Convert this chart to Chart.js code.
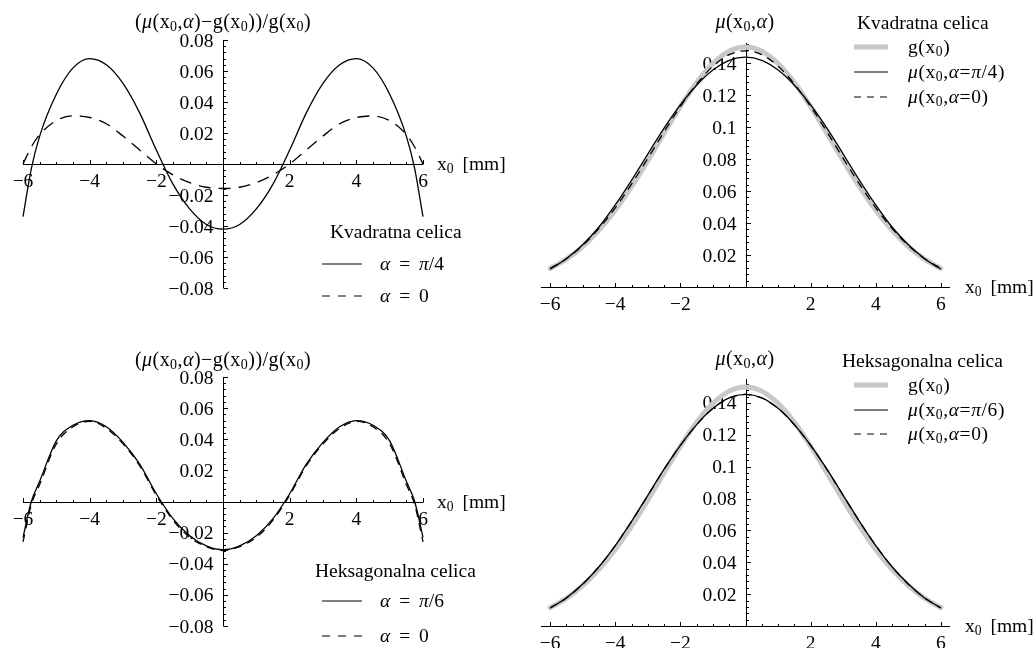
<!DOCTYPE html>
<html>
<head>
<meta charset="utf-8">
<script src="https://cdn.jsdelivr.net/npm/chart.js@4.4.1/dist/chart.umd.min.js"></script>
<style>
  body { margin: 0; background: #fff; width: 1033px; height: 648px; position: relative; overflow: hidden;
         font-family: 'Liberation Serif', 'Times New Roman', serif; color: #000; }
  canvas { position: absolute; }
  .t { position: absolute; white-space: nowrap; font-size: 19.5px; line-height: 1; transform: translateY(-50%); }
  .c { transform: translate(-50%, -50%); letter-spacing: 0.45px; font-size: 20px; }
  .w { word-spacing: 4px; }
  .m { letter-spacing: 0.6px; }
  .t i { font-style: italic; }
  .t sub { font-size: 70%; vertical-align: -0.22em; line-height: 0; }
  svg { position: absolute; overflow: visible; }
</style>
</head>
<body>

<canvas id="c1" width="520" height="324" style="left:0;top:0"></canvas>
<canvas id="c2" width="513" height="324" style="left:520px;top:0"></canvas>
<canvas id="c3" width="520" height="324" style="left:0;top:324px"></canvas>
<canvas id="c4" width="513" height="324" style="left:520px;top:324px"></canvas>

<!-- axis titles -->
<div class="t c" style="left:223px;top:21px">(<i>μ</i>(x<sub>0</sub>,<i>α</i>)−g(x<sub>0</sub>))/g(x<sub>0</sub>)</div>
<div class="t c" style="left:223px;top:359px">(<i>μ</i>(x<sub>0</sub>,<i>α</i>)−g(x<sub>0</sub>))/g(x<sub>0</sub>)</div>
<div class="t c" style="left:745px;top:21px"><i>μ</i>(x<sub>0</sub>,<i>α</i>)</div>
<div class="t c" style="left:745px;top:358px"><i>μ</i>(x<sub>0</sub>,<i>α</i>)</div>
<div class="t w" style="left:437px;top:164px">x<sub>0</sub> [mm]</div>
<div class="t w" style="left:437px;top:502px">x<sub>0</sub> [mm]</div>
<div class="t w" style="left:965px;top:287px">x<sub>0</sub> [mm]</div>
<div class="t w" style="left:965px;top:626px">x<sub>0</sub> [mm]</div>

<!-- legend, top left -->
<div class="t" style="left:330px;top:232px">Kvadratna celica</div>
<svg style="left:322px;top:264px" width="40" height="1"><line x1="0" y1="0" x2="40" y2="0" stroke="#000" stroke-width="1.2"/></svg>
<div class="t w" style="left:380px;top:264px"><i>α</i> = <i>π</i>/4</div>
<svg style="left:322px;top:296px" width="40" height="1"><line x1="0" y1="0" x2="40" y2="0" stroke="#000" stroke-width="1.2" stroke-dasharray="8 8"/></svg>
<div class="t w" style="left:380px;top:296px"><i>α</i> = 0</div>

<!-- legend, bottom left -->
<div class="t" style="left:315px;top:571px">Heksagonalna celica</div>
<svg style="left:322px;top:601px" width="40" height="1"><line x1="0" y1="0" x2="40" y2="0" stroke="#000" stroke-width="1.2"/></svg>
<div class="t w" style="left:380px;top:601px"><i>α</i> = <i>π</i>/6</div>
<svg style="left:322px;top:636px" width="40" height="1"><line x1="0" y1="0" x2="40" y2="0" stroke="#000" stroke-width="1.2" stroke-dasharray="8 8"/></svg>
<div class="t w" style="left:380px;top:636px"><i>α</i> = 0</div>

<!-- legend, top right -->
<div class="t" style="left:857px;top:23px">Kvadratna celica</div>
<svg style="left:854px;top:47px" width="34" height="1"><line x1="0" y1="0" x2="34" y2="0" stroke="#c8c8c8" stroke-width="5"/></svg>
<div class="t m" style="left:908px;top:47px">g(x<sub>0</sub>)</div>
<svg style="left:854px;top:72px" width="34" height="1"><line x1="0" y1="0" x2="34" y2="0" stroke="#000" stroke-width="1.2"/></svg>
<div class="t m" style="left:908px;top:72px"><i>μ</i>(x<sub>0</sub>,<i>α</i>=<i>π</i>/4)</div>
<svg style="left:854px;top:97px" width="34" height="1"><line x1="0" y1="0" x2="34" y2="0" stroke="#000" stroke-width="1.2" stroke-dasharray="7 6"/></svg>
<div class="t m" style="left:908px;top:97px"><i>μ</i>(x<sub>0</sub>,<i>α</i>=0)</div>

<!-- legend, bottom right -->
<div class="t" style="left:842px;top:361px">Heksagonalna celica</div>
<svg style="left:854px;top:385px" width="34" height="1"><line x1="0" y1="0" x2="34" y2="0" stroke="#c8c8c8" stroke-width="5"/></svg>
<div class="t m" style="left:908px;top:385px">g(x<sub>0</sub>)</div>
<svg style="left:854px;top:410px" width="34" height="1"><line x1="0" y1="0" x2="34" y2="0" stroke="#000" stroke-width="1.2"/></svg>
<div class="t m" style="left:908px;top:410px"><i>μ</i>(x<sub>0</sub>,<i>α</i>=<i>π</i>/6)</div>
<svg style="left:854px;top:434px" width="34" height="1"><line x1="0" y1="0" x2="34" y2="0" stroke="#000" stroke-width="1.2" stroke-dasharray="7 6"/></svg>
<div class="t m" style="left:908px;top:434px"><i>μ</i>(x<sub>0</sub>,<i>α</i>=0)</div>

<script>
// x0 sample positions [mm]
const xs = [-6, -5.75, -5.5, -5, -4.5, -4, -3.5, -3, -2.5, -2, -1.5, -1, -0.5, 0,
            0.5, 1, 1.5, 2, 2.5, 3, 3.5, 4, 4.5, 5, 5.5, 5.75, 6];

// relative error (mu - g) / g
const relSqPi4 = [-0.034, -0.003, 0.018, 0.045, 0.062, 0.068, 0.064, 0.052, 0.033, 0.009, -0.013, -0.029, -0.039, -0.042,
                  -0.039, -0.029, -0.013, 0.009, 0.033, 0.052, 0.064, 0.068, 0.062, 0.045, 0.018, -0.003, -0.034];
const relSq0   = [0.0, 0.011, 0.019, 0.028, 0.031, 0.030, 0.026, 0.018, 0.009, 0.0, -0.007, -0.012, -0.015, -0.0158,
                  -0.015, -0.012, -0.007, 0.0, 0.009, 0.018, 0.026, 0.030, 0.031, 0.028, 0.019, 0.011, 0.0];
const relHexPi6 = [-0.023, 0.0, 0.013, 0.039, 0.049, 0.052, 0.048, 0.038, 0.024, 0.005, -0.011, -0.022, -0.0285, -0.031,
                   -0.0285, -0.022, -0.011, 0.005, 0.024, 0.038, 0.048, 0.052, 0.049, 0.039, 0.013, 0.0, -0.023];
const relHex0   = [-0.026, -0.002, 0.011, 0.037, 0.048, 0.0515, 0.047, 0.037, 0.023, 0.004, -0.012, -0.023, -0.029, -0.0315,
                   -0.029, -0.023, -0.012, 0.004, 0.023, 0.037, 0.047, 0.0515, 0.048, 0.037, 0.011, -0.002, -0.026];

// profiles
const gVals    = [0.0116, 0.0143, 0.0174, 0.0253, 0.0355, 0.0480, 0.0627, 0.0790, 0.0961, 0.1128, 0.1278, 0.1397, 0.1474, 0.1500,
                  0.1474, 0.1397, 0.1278, 0.1128, 0.0961, 0.0790, 0.0627, 0.0480, 0.0355, 0.0253, 0.0174, 0.0143, 0.0116];
const muSqPi4  = [0.0112, 0.0143, 0.0177, 0.0264, 0.0375, 0.0513, 0.0667, 0.0831, 0.0993, 0.1138, 0.1261, 0.1356, 0.1417, 0.1437,
                  0.1417, 0.1356, 0.1261, 0.1138, 0.0993, 0.0831, 0.0667, 0.0513, 0.0375, 0.0264, 0.0177, 0.0143, 0.0112];
const muSq0    = [0.0116, 0.0145, 0.0177, 0.0260, 0.0366, 0.0494, 0.0643, 0.0804, 0.0970, 0.1128, 0.1269, 0.1380, 0.1452, 0.1476,
                  0.1452, 0.1380, 0.1269, 0.1128, 0.0970, 0.0804, 0.0643, 0.0494, 0.0366, 0.0260, 0.0177, 0.0145, 0.0116];
const muHexPi6 = [0.0113, 0.0143, 0.0176, 0.0263, 0.0372, 0.0505, 0.0657, 0.0820, 0.0984, 0.1134, 0.1264, 0.1366, 0.1432, 0.1454,
                  0.1432, 0.1366, 0.1264, 0.1134, 0.0984, 0.0820, 0.0657, 0.0505, 0.0372, 0.0263, 0.0176, 0.0143, 0.0113];
const muHex0   = [0.0113, 0.0143, 0.0176, 0.0262, 0.0372, 0.0505, 0.0656, 0.0819, 0.0983, 0.1133, 0.1263, 0.1365, 0.1431, 0.1453,
                  0.1431, 0.1365, 0.1263, 0.1133, 0.0983, 0.0819, 0.0656, 0.0505, 0.0372, 0.0262, 0.0176, 0.0143, 0.0113];

// ticks
const xTicks = [-6, -4, -2, 2, 4, 6];
const xTickLabels = ['−6', '−4', '−2', '2', '4', '6'];
const relTicks = [-0.08, -0.06, -0.04, -0.02, 0.02, 0.04, 0.06, 0.08];
const relTickLabels = ['−0.08', '−0.06', '−0.04', '−0.02', '0.02', '0.04', '0.06', '0.08'];
const muTicks = [0.02, 0.04, 0.06, 0.08, 0.1, 0.12, 0.14];
const muTickLabels = ['0.02', '0.04', '0.06', '0.08', '0.1', '0.12', '0.14'];

const pts = ys => xs.map((x, i) => ({ x: x, y: ys[i] }));
const solid = ys => ({ data: pts(ys), borderColor: '#000', borderWidth: 1.3, clip: false });
const dashed = (ys, dash) => ({ data: pts(ys), borderColor: '#000', borderWidth: 1.3, borderDash: dash, clip: false });
const thick = ys => ({ data: pts(ys), borderColor: '#c8c8c8', borderWidth: 5, borderCapStyle: 'round', clip: false });

// Mathematica-like axes through the origin, ticks pointing inwards
function mathAxes(ax) {
  return {
    id: 'mathAxes',
    beforeDatasetsDraw(chart) {
      const { ctx, chartArea: a, scales: { x, y } } = chart;
      const px = Math.round(x.getPixelForValue(0)) + 0.5;
      const py = Math.round(y.getPixelForValue(0)) + 0.5;
      ctx.save();
      ctx.strokeStyle = '#000';
      ctx.lineWidth = 1;
      ctx.beginPath();
      ctx.moveTo(a.left, py); ctx.lineTo(a.right, py);
      ctx.moveTo(px, a.top); ctx.lineTo(px, a.bottom);
      for (let v = -6; v <= 6.001; v += 0.5) {
        const p = Math.round(x.getPixelForValue(v)) + 0.5;
        const len = Math.abs(v % 2) < 1e-6 ? 4.5 : 2.5;
        ctx.moveTo(p, py); ctx.lineTo(p, py - len);
      }
      for (let k = Math.ceil(y.min / 0.004 - 1e-6); k * 0.004 <= y.max + 1e-9; k++) {
        const v = k * 0.004;
        const p = Math.round(y.getPixelForValue(v)) + 0.5;
        const len = k % 5 === 0 ? 4.5 : 2.5;
        ctx.moveTo(px, p); ctx.lineTo(px + len, p);
      }
      ctx.stroke();

      ctx.fillStyle = '#000';
      ctx.font = '19.5px "Liberation Serif", "Times New Roman", serif';
      ctx.textAlign = 'center';
      ctx.textBaseline = 'alphabetic';
      xTicks.forEach((v, i) => ctx.fillText(xTickLabels[i], x.getPixelForValue(v), py + 22));
      ctx.textAlign = 'right';
      ax.yTicks.forEach((v, i) => ctx.fillText(ax.yLabels[i], px - 10, y.getPixelForValue(v) + 6.5));
      ctx.restore();
    }
  };
}

function mkChart(id, datasets, pad, xr, yr, ax) {
  return new Chart(document.getElementById(id), {
    type: 'line',
    data: { datasets: datasets },
    options: {
      responsive: false,
      animation: false,
      devicePixelRatio: 1,
      layout: { padding: pad },
      elements: { point: { radius: 0 }, line: { cubicInterpolationMode: 'monotone', fill: false } },
      plugins: { legend: { display: false }, tooltip: { enabled: false } },
      scales: {
        x: { type: 'linear', display: false, min: xr[0], max: xr[1] },
        y: { type: 'linear', display: false, min: yr[0], max: yr[1] }
      }
    },
    plugins: [mathAxes(ax)]
  });
}

mkChart('c1', [solid(relSqPi4), dashed(relSq0, [12, 8])],
  { left: 23, right: 97, top: 40, bottom: 36 }, [-6, 6], [-0.08, 0.08],
  { yTicks: relTicks, yLabels: relTickLabels });

mkChart('c3', [solid(relHexPi6), dashed(relHex0, [8, 6])],
  { left: 23, right: 97, top: 53, bottom: 22 }, [-6, 6], [-0.08, 0.08],
  { yTicks: relTicks, yLabels: relTickLabels });

mkChart('c2', [solid(muSqPi4), dashed(muSq0, [8, 6]), thick(gVals)],
  { left: 21, right: 83, top: 43, bottom: 37 }, [-6.28, 6.28], [0, 0.1525],
  { yTicks: muTicks, yLabels: muTickLabels });

mkChart('c4', [solid(muHexPi6), dashed(muHex0, [8, 6]), thick(gVals)],
  { left: 21, right: 83, top: 55, bottom: 22 }, [-6.28, 6.28], [0, 0.155],
  { yTicks: muTicks, yLabels: muTickLabels });
</script>
</body>
</html>
